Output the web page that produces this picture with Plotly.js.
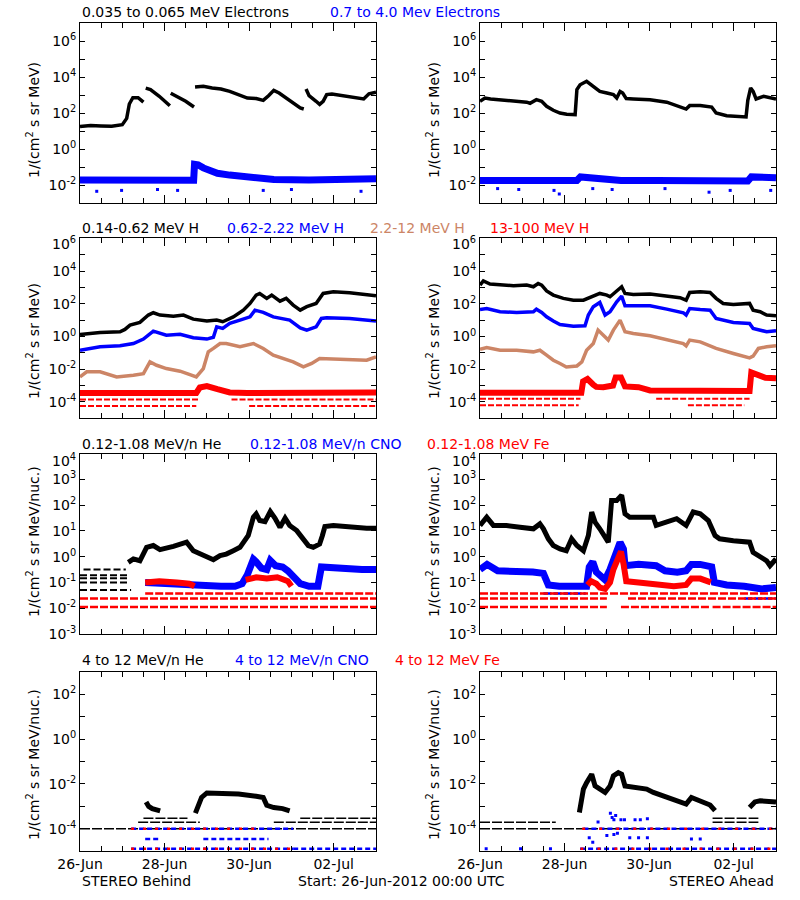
<!DOCTYPE html>
<html><head><meta charset="utf-8">
<script src="https://cdn.plot.ly/plotly-3.0.1.min.js"></script>
<style>body{margin:0;background:#fff}#chart{width:800px;height:900px}</style>
</head><body><div id="chart"></div>
<script>
// ---------- DATA (time in hours since 26-Jun-2012 00:00 UTC, values as log10 of flux) ----------
const tickDays = [0, 48, 96, 144];
const tickDayText = ['26-Jun', '28-Jun', '30-Jun', '02-Jul'];

// Row 1: electrons
const eB_t = [0,6,12,18,24,26.5,28,30,33,36,36.5,37.3,40,45,49,51,51.2,51.5,55,60,64.7,65,65.3,70,75,80,85,90,95,100,104,107,110,113,117,121,125,127,127.5,128.3,130,134,136,138,140,143,148,153,158,161,164,168];
const eB_lg = [1.25,1.3,1.28,1.27,1.35,1.7,2.5,2.85,2.85,2.6,null,3.38,3.3,2.93,2.56,2.4,null,3.1,2.93,2.65,2.33,null,3.44,3.48,3.39,3.33,3.2,3.02,2.83,2.8,2.7,2.96,3.26,3.11,2.83,2.56,2.28,2.22,null,3.33,2.96,2.65,2.48,2.65,3.02,3.06,2.98,2.93,2.83,2.78,3.07,3.15];
const eB2_t = [0,20,40,64.5,65,67,70,73,78,85,95,110,130,150,168];
const eB2_lg = [-1.72,-1.74,-1.72,-1.74,-0.85,-0.88,-1.05,-1.2,-1.35,-1.45,-1.55,-1.7,-1.72,-1.68,-1.65];
const eB2o_t = [9.5,23.6,44,55.4,104,120,159.5];
const eB2o_lg = [-2.35,-2.3,-2.25,-2.3,-2.3,-2.25,-2.35];
const eA_t = [0,2.8,6,11,19,26.5,28.4,32,35,37.8,41.6,45.4,49.2,54,55,56.8,60.5,62.4,64.3,68,72,75.7,77.6,79.5,81,83,87,96.5,106,111.6,117,119,125,131.5,134,140,143.8,151,152,153.6,155,156.7,161,168];
const eA_lg = [2.65,2.83,2.78,2.74,2.69,2.6,2.54,2.74,2.65,2.37,2.15,2.0,1.93,1.91,3.3,3.57,3.76,3.63,3.48,3.2,3.11,3.02,2.83,3.2,3.11,2.8,2.78,2.74,2.6,2.41,2.22,2.41,2.41,2.33,2.0,1.85,1.81,1.78,2.7,3.39,3.2,2.78,2.93,2.78];
const eA2_t = [0,20,40,55,57,62,70,80,100,130,152,154,160,168];
const eA2_lg = [-1.75,-1.72,-1.75,-1.75,-1.55,-1.6,-1.7,-1.75,-1.75,-1.75,-1.78,-1.55,-1.58,-1.6];
const eA2o_t = [10,22,42,45,64,75,105,130,142,165];
const eA2o_lg = [-2.2,-2.25,-2.3,-2.5,-2.2,-2.25,-2.2,-2.4,-2.3,-2.3];

// Row 2: protons
const hB1_t = [0,11.4,22.7,25.5,28.4,34,38.8,41.6,45.4,53,58.7,64.3,72,77.6,81,87,92.7,96.5,100,102,106,108.8,113.5,117,121,125,128.7,134,138,143.8,153,162.7,168];
const hB1_lg = [0.12,0.24,0.29,0.43,0.69,0.86,1.31,1.45,1.31,1.24,1.31,1.06,0.94,1.0,0.9,1.2,1.61,2.02,2.53,2.63,2.33,2.53,2.16,2.33,1.92,1.61,1.82,2.02,2.63,2.73,2.67,2.57,2.49];
const hB2_t = [0,11.4,22.7,30.3,36,41.6,49,56.8,64.3,72,75.7,77.6,81,85,90.8,96.5,99.3,104,109.7,115.4,119,125,128.7,134,137,140,153,168];
const hB2_lg = [-0.84,-0.63,-0.57,-0.43,-0.16,0.33,0.08,0.14,-0.08,-0.16,-0.05,0.59,0.49,0.8,1.0,1.2,1.61,1.47,1.2,1.06,1.0,0.53,0.39,0.59,1.1,1.14,1.1,0.94];
const hB3_t = [0,3.8,11.4,20.8,30.3,36,39.7,43.5,49,56.8,62.4,66,70,72.8,75.7,79.5,83,90.8,98.4,104,109.7,115.4,121,126.8,131.5,136,143.8,153,162.7,168];
const hB3_lg = [-2.47,-2.16,-2.16,-2.47,-2.37,-2.27,-1.55,-1.76,-1.96,-2.12,-2.33,-2.47,-1.96,-0.94,-0.73,-0.43,-0.43,-0.63,-0.43,-0.73,-1.14,-1.35,-1.55,-1.86,-1.65,-1.35,-1.39,-1.45,-1.45,-1.24];
const hB4_t = [0,30,66,68,72,78,85,95,130,168];
const hB4_lg = [-3.45,-3.47,-3.45,-3.12,-3.03,-3.22,-3.42,-3.45,-3.47,-3.43];
const hB4q_lvl = [-3.85,-3.85,-4.25,-4.25];
const hB4q_t0 = [0,86,0,96];
const hB4q_t1 = [67,168,66,168];

const hA1_t = [0,1.9,5.7,11.4,19,26.5,30.3,33,35,37.8,41.6,47.3,53,58.7,62.4,68,72,73.8,76.6,80.4,82.3,87,96.5,106,113.5,117,119,125,130.6,134,138,143.8,153,155,159,162.7,168];
const hA1_lg = [3.14,3.39,3.2,3.14,3.1,3.14,3.04,3.24,3.14,2.78,2.53,2.33,2.22,2.22,2.37,2.63,2.53,2.43,2.69,3.04,2.63,2.57,2.59,2.49,2.37,2.22,2.69,2.73,2.69,2.33,2.02,1.96,2.02,1.61,1.51,1.31,1.27];
const hA2_t = [0,3.8,11.4,20.8,30.3,32,35,37.8,41.6,45.4,53,59.6,61.5,64.3,68,71,73.8,77.6,80.4,82.3,87,96.5,106,115.4,117,119,125,130.6,134,143.8,153,155,162.7,168];
const hA2_lg = [1.65,1.71,1.51,1.47,1.51,1.67,1.47,1.2,0.94,0.73,0.63,0.65,1.31,1.82,2.08,1.31,1.51,2.12,2.47,1.88,1.88,1.88,1.67,1.45,1.31,1.71,1.65,1.61,1.1,0.86,0.8,0.49,0.29,0.35];
const hA3_t = [0,3.8,11.4,20.8,30.3,34,37.8,41.6,45.4,49,55,57.8,60.5,64.3,67,70,72.8,75.7,79.5,82.3,87,96.5,106,115.4,117,119,125,134,143.8,153,155,158,162.7,168];
const hA3_lg = [-0.78,-0.67,-0.84,-0.84,-0.94,-0.84,-1.14,-1.45,-1.65,-1.86,-1.8,-1.55,-0.84,-0.43,0.39,0.08,-0.22,0.39,1.0,0.29,0.18,0.04,-0.22,-0.43,-0.57,-0.22,-0.33,-0.73,-1.04,-1.31,-1.2,-0.73,-0.63,-0.57];
const hA4_t = [0,30,57.5,58.5,61,64.3,66,70,75.5,77,80,82.3,90,96.5,120,153,154,157,162,168];
const hA4_lg = [-3.44,-3.46,-3.44,-2.75,-2.6,-2.95,-3.08,-3.1,-3.0,-2.5,-2.5,-3.05,-3.1,-3.3,-3.33,-3.33,-2.2,-2.35,-2.52,-2.55];
const hA4q_lvl = [-3.8,-3.8,-4.2,-4.2];
const hA4q_t0 = [0,100,0,118];
const hA4q_t1 = [57,153,56,150];

// Row 3: 0.12-1.08 MeV/n ions
const heB_t = [27.4,30.3,34,37.8,41.6,45.4,53,60.5,64.3,68,72,75.7,79.5,83,87,90.8,95.5,98.4,100,102,105,108,110.7,113.5,116.4,119,123,126.8,129.6,132.4,136,137.5,139,143.8,153,162.7,168];
const heB_lg = [-0.22,-0.09,-0.16,0.36,0.43,0.27,0.4,0.56,0.23,0.1,-0.03,-0.12,0.04,0.1,0.23,0.36,0.82,1.53,1.66,1.4,1.36,1.75,1.49,1.14,1.49,1.21,1.01,0.69,0.43,0.36,0.49,0.8,1.17,1.21,1.14,1.1,1.1];
const heBq_lvl = [-0.5,-0.72,-0.84,-1.0,-1.29];
const heBq_t0 = [2,0,0,0,0];
const heBq_t1 = [26,27,27,28,29];
const cnoB_t = [37,50,60,70,80,88,92,95,98.4,100,103,106,108,111,115,118,121,125,130,135,137,140,150,160,168];
const cnoB_lg = [-1.0,-1.05,-1.1,-1.15,-1.15,-1.15,-1.05,-0.7,-0.1,-0.2,-0.45,-0.5,-0.15,-0.35,-0.4,-0.55,-0.8,-1.05,-1.15,-1.15,-0.4,-0.42,-0.48,-0.5,-0.5];
const feB_t = [37,45,55,62,65,65.5,93,94,100,106,112,118,120];
const feB_lg = [-1.0,-0.95,-1.0,-1.05,-1.15,null,null,-0.9,-0.8,-0.85,-0.8,-0.95,-1.15];
const ionBq_lvl = [-1.43,-1.62,-1.95];
const ionBq_t0 = [37,0,0];
const ionBq_t1 = [168,168,168];

const heA_t = [0,3.8,7.6,15,22.7,30.3,34,36,38.8,41.6,45.4,49,52,55,58.7,61.5,63.4,65.3,68,71,72.8,74.7,77.6,80.4,82.3,85,90.8,98.4,100,106,111.6,117,121,125,129.6,133.4,136,143.8,153,155,159,162.7,164.6,168];
const heA_lg = [1.21,1.53,1.21,1.21,1.14,1.08,1.27,1.08,0.69,0.43,0.3,0.23,0.69,0.43,0.23,0.82,1.73,1.34,1.08,0.69,0.56,2.18,2.18,2.38,1.66,1.53,1.53,1.53,1.21,1.34,1.47,1.21,1.73,1.66,1.4,0.82,0.69,0.62,0.56,0.17,-0.03,-0.16,-0.35,-0.09];
const cnoA_t = [0,4,10,20,30,36,38.8,45,55,60.5,62,64,66,68,71,73.8,77,79.5,81.4,82.3,90,100,105,112,117,120,125,131.5,133,140,150,155,160,168];
const cnoA_lg = [-0.5,-0.3,-0.55,-0.55,-0.6,-0.65,-1.1,-1.15,-1.15,-1.15,-0.4,-0.2,-0.6,-0.7,-0.9,-0.5,0.2,0.55,0.3,-0.35,-0.3,-0.35,-0.55,-0.6,-0.55,-0.3,-0.3,-0.4,-1.0,-1.1,-1.15,-1.2,-1.25,-1.2];
const feA_t = [61,63,66,68,71,73.8,75.7,78,80,81.5,83,90,100,110,117,120,125,131];
const feA_lg = [-1.1,-0.95,-1.05,-1.2,-1.25,-1.0,-0.5,-0.1,0.2,-0.3,-0.95,-1.0,-1.05,-1.15,-1.1,-0.85,-0.85,-1.0];
const ionAq_lvl = [-1.43,-1.62,-1.62,-1.95,-1.95,-1.95];
const ionAq_t0 = [0,0,84,0,80,132];
const ionAq_t1 = [168,72,168,72,130,168];
const ionAqb_lvl = [-1.43,-1.62];
const ionAqb_t0 = [36,150];
const ionAqb_t1 = [60,168];

// Row 4: 4-12 MeV/n ions
const he4B_t = [37.5,39,41,43,45.5,46,65,65.5,67,69,72,80,90,100,104,106,110,115,119];
const he4B_lg = [-2.8,-3.0,-3.1,-3.15,-3.2,null,null,-3.3,-3.0,-2.6,-2.4,-2.42,-2.45,-2.55,-2.6,-2.95,-3.05,-3.1,-3.2];
const he4Bq_lvl = [-4.0,-3.53,-3.71,-3.53,-3.71];
const he4Bq_t0 = [0,36,33,125,110];
const he4Bq_t1 = [168,61,68,168,168];
const cno4Bq_lvl = [-4.0,-4.89,-4.89,-4.45,-4.45];
const cno4Bq_t0 = [29,29,121,37,70];
const cno4Bq_t1 = [121,121,168,45,107];
const fe4Bq_lvl = [-4.0,-4.89];
const fe4Bq_t0 = [29,29];
const fe4Bq_t1 = [100,121];

const he4A_t = [56.4,58.7,60.5,63.4,65.3,68,71,73.8,75.7,78.5,80.4,82.3,87,94.6,98.4,106,111.6,117,120,125,130.6,133.4,134,152,153,156,159,163,168];
const he4A_lg = [-3.27,-2.23,-1.94,-1.57,-2.09,-2.23,-2.38,-2.09,-1.64,-1.5,-1.57,-2.09,-2.16,-2.23,-2.38,-2.6,-2.75,-2.9,-2.6,-2.75,-2.94,-3.19,null,null,-3.05,-2.8,-2.75,-2.78,-2.8];
const he4Aq_lvl = [-4.0,-3.71,-3.71,-3.53];
const he4Aq_t0 = [0,0,132,132];
const he4Aq_t1 = [168,43,158,158];
const cno4Aq_lvl = [-4.0,-4.89];
const cno4Aq_t0 = [58.7,56.8];
const cno4Aq_t1 = [168,168];
const fe4Aq_lvl = [-4.0,-4.89];
const fe4Aq_t0 = [58,57];
const fe4Aq_t1 = [168,168];
const cno4Ap_t = [74,75,76,77,76,78,72,80,82,67,62,64,85,90,95,88,91,95,120,125,3.5,23,40];
const cno4Ap_lg = [-3.3,-3.5,-3.6,-3.4,-4.25,-4.2,-4.3,-3.6,-3.6,-3.7,-4.4,-4.6,-4.4,-4.4,-4.4,-3.6,-3.6,-3.55,-4.45,-4.45,-4.89,-4.89,-4.89];

// ---------- RENDERING ----------
const BLACK = '#000000', BLUE = '#0000ff', BROWN = 'rgb(204,133,102)', RED = '#ff0000';
const FONT = 'DejaVu Sans';
const traces = [];
function ax(p){ return {x: p===0?'x':'x'+(p+1), y: p===0?'y':'y'+(p+1)}; }
function p10(a){ return a.map(v => v===null ? null : Math.pow(10, v)); }
function line(p, t, lg, color, width){
  traces.push({type:'scatter', mode:'lines', x:t, y:p10(lg), xaxis:ax(p).x, yaxis:ax(p).y,
    line:{color:color, width:width}, connectgaps:false, hoverinfo:'skip'});
}
function levels(p, lvl, t0, t1, color, width, dash){
  const x=[], y=[];
  for(let i=0;i<lvl.length;i++){ x.push(t0[i], t1[i], null); y.push(Math.pow(10,lvl[i]), Math.pow(10,lvl[i]), null); }
  traces.push({type:'scatter', mode:'lines', x:x, y:y, xaxis:ax(p).x, yaxis:ax(p).y,
    line:{color:color, width:width, dash:dash}, connectgaps:false, hoverinfo:'skip'});
}
function points(p, t, lg, color, size){
  traces.push({type:'scatter', mode:'markers', x:t, y:p10(lg), xaxis:ax(p).x, yaxis:ax(p).y,
    marker:{color:color, size:size, symbol:'square', line:{width:0}}, hoverinfo:'skip'});
}

// Row 1
line(0, eB_t, eB_lg, BLACK, 3.5);
line(0, eB2_t, eB2_lg, BLUE, 7);
points(0, eB2o_t, eB2o_lg, BLUE, 3);
line(1, eA_t, eA_lg, BLACK, 3.5);
line(1, eA2_t, eA2_lg, BLUE, 7);
points(1, eA2o_t, eA2o_lg, BLUE, 3);
// Row 2
line(2, hB1_t, hB1_lg, BLACK, 3.5);
line(2, hB2_t, hB2_lg, BLUE, 3.5);
line(2, hB3_t, hB3_lg, BROWN, 3.5);
levels(2, hB4q_lvl, hB4q_t0, hB4q_t1, RED, 2, '6px,2px');
line(2, hB4_t, hB4_lg, RED, 6);
line(3, hA1_t, hA1_lg, BLACK, 3.5);
line(3, hA2_t, hA2_lg, BLUE, 3.5);
line(3, hA3_t, hA3_lg, BROWN, 3.5);
levels(3, hA4q_lvl, hA4q_t0, hA4q_t1, RED, 2, '6px,2px');
line(3, hA4_t, hA4_lg, RED, 6);
// Row 3
levels(4, heBq_lvl, heBq_t0, heBq_t1, BLACK, 2, '7px,3px');
line(4, heB_t, heB_lg, BLACK, 5);
line(4, cnoB_t, cnoB_lg, BLUE, 7);
levels(4, ionBq_lvl, ionBq_t0, ionBq_t1, RED, 2.5, '8px,2px');
line(4, feB_t, feB_lg, RED, 6);
line(5, heA_t, heA_lg, BLACK, 5);
levels(5, ionAqb_lvl, ionAqb_t0, ionAqb_t1, BLUE, 2.5, '8px,2px');
line(5, cnoA_t, cnoA_lg, BLUE, 7);
levels(5, ionAq_lvl, ionAq_t0, ionAq_t1, RED, 2.5, '8px,2px');
line(5, feA_t, feA_lg, RED, 6);
// Row 4
levels(6, he4Bq_lvl, he4Bq_t0, he4Bq_t1, BLACK, 1.5, '10px,2px');
line(6, he4B_t, he4B_lg, BLACK, 5);
levels(6, cno4Bq_lvl, cno4Bq_t0, cno4Bq_t1, BLUE, 2.5, '5px,3px');
levels(6, fe4Bq_lvl, fe4Bq_t0, fe4Bq_t1, RED, 2.5, '3px,9px');
levels(7, he4Aq_lvl, he4Aq_t0, he4Aq_t1, BLACK, 1.5, '10px,2px');
line(7, he4A_t, he4A_lg, BLACK, 5);
levels(7, cno4Aq_lvl, cno4Aq_t0, cno4Aq_t1, BLUE, 2.5, '5px,3px');
levels(7, fe4Aq_lvl, fe4Aq_t0, fe4Aq_t1, RED, 2.5, '3px,14px');
points(7, cno4Ap_t, cno4Ap_lg, BLUE, 3);

// Axes
const W = 800, Hh = 900;
const xDomPx = [[80,376],[480,776]];
const yDomPx = [[23,203],[238.3,418.3],[453.5,634],[671.7,851.3]];
const yRanges = [[-3,7],[-5,6],[-3,4],[-5,3]];
const yLabelStep = [2,2,1,2];
// the label of the top decade in rows 2 and 3 sits a little below the frame, as in the reference
const topLabelRow = [false, true, true, false];
const topLabelY = [0, 243, 460, 0];
const layout = {width:W, height:Hh, margin:{l:0,r:0,t:0,b:0}, paper_bgcolor:'#fff', plot_bgcolor:'#fff',
  showlegend:false, font:{family:FONT, size:14, color:'#000'}, annotations:[]};
function ann(xpx, ypx, text, color, xanchor, angle){
  layout.annotations.push({xref:'paper', yref:'paper', x:xpx/W, y:1-ypx/Hh, text:text, showarrow:false,
    xanchor:xanchor||'left', yanchor:'middle', textangle:angle||0, font:{family:FONT, size:14, color:color||'#000'}});
}
for(let p=0;p<8;p++){
  const r=Math.floor(p/2), c=p%2;
  const xk = p===0?'xaxis':'xaxis'+(p+1), yk = p===0?'yaxis':'yaxis'+(p+1);
  const [lo,hi] = yRanges[r];
  const tv=[], tt=[], mv=[];
  for(let k=lo;k<=hi;k++){
    const labelled = (yLabelStep[r]===1 || k%2===0);
    if(labelled && !(topLabelRow[r] && k===hi)){ tv.push(Math.pow(10,k)); tt.push('10<sup>'+k+'</sup>'); }
    else mv.push(Math.pow(10,k));
  }
  if(topLabelRow[r]) ann(xDomPx[c][0]-2, topLabelY[r], '10<sup>'+hi+'</sup>', BLACK, 'right');
  layout[xk] = {domain:[xDomPx[c][0]/W, xDomPx[c][1]/W], range:[0,168], anchor:ax(p).y,
    showline:true, linecolor:'#000', linewidth:1, mirror:'ticks', ticks:'inside', ticklen:8, tickcolor:'#000',
    tickmode:'array', tickvals:tickDays, ticktext:tickDayText, showticklabels: r===3,
    tickfont:{family:FONT, size:14, color:'#000'}, showgrid:false, zeroline:false, fixedrange:true,
    minor:{tickmode:'linear', tick0:0, dtick:12, ticks:'inside', ticklen:5, tickcolor:'#000', showgrid:false}};
  layout[yk] = {domain:[1-yDomPx[r][1]/Hh, 1-yDomPx[r][0]/Hh], type:'log', range:[lo,hi], anchor:ax(p).x,
    showline:true, linecolor:'#000', linewidth:1, mirror:'ticks', ticks:'inside', ticklen:5, tickcolor:'#000',
    tickmode:'array', tickvals:tv, ticktext:tt, tickfont:{family:FONT, size:14, color:'#000'},
    showgrid:false, zeroline:false, fixedrange:true,
    minor:{tickmode:'array', tickvals:mv, ticks:'inside', ticklen:5, tickcolor:'#000', showgrid:false}};
}
// Titles
ann(80,12,'0.035 to 0.065 MeV Electrons',BLACK); ann(328,12,'0.7 to 4.0 Mev Electrons',BLUE);
ann(80,228,'0.14-0.62 MeV H',BLACK); ann(225,228,'0.62-2.22 MeV H',BLUE); ann(368,228,'2.2-12 MeV H',BROWN); ann(488,228,'13-100 MeV H',RED);
ann(80,444,'0.12-1.08 MeV/n He',BLACK); ann(248,444,'0.12-1.08 MeV/n CNO',BLUE); ann(425,444,'0.12-1.08 MeV Fe',RED);
ann(80,660,'4 to 12 MeV/n He',BLACK); ann(233,660,'4 to 12 MeV/n CNO',BLUE); ann(393,660,'4 to 12 MeV Fe',RED);
// Y titles
const yt1 = '1/(cm<sup>2</sup> s sr MeV)', yt2 = '1/(cm<sup>2</sup> s sr MeV/nuc.)';
const ytc = [120,341,542,765];
[33,433].forEach(x=>{ ann(x,ytc[0],yt1,BLACK,'center',-90); ann(x,ytc[1],yt1,BLACK,'center',-90);
  ann(x,ytc[2],yt2,BLACK,'center',-90); ann(x,ytc[3],yt2,BLACK,'center',-90); });
// Footer
ann(80,881,'STEREO Behind',BLACK,'left'); ann(402,881,'Start: 26-Jun-2012 00:00 UTC',BLACK,'center'); ann(776,881,'STEREO Ahead',BLACK,'right');

Plotly.newPlot('chart', traces, layout, {staticPlot:true});
</script></body></html>
